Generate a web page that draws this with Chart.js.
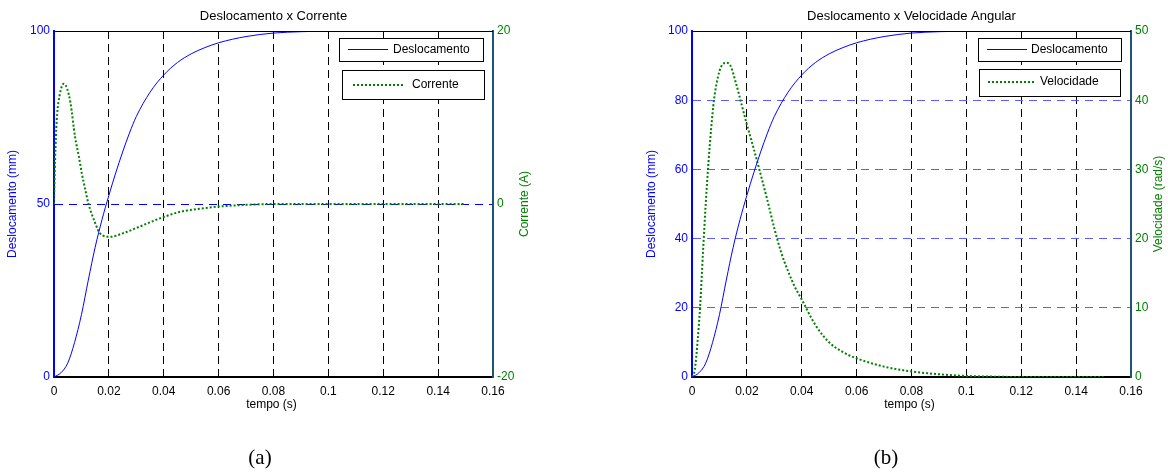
<!DOCTYPE html>
<html>
<head>
<meta charset="utf-8">
<script src="https://cdn.jsdelivr.net/npm/chart.js@4.4.1/dist/chart.umd.min.js"></script>
<style>
  html, body { margin: 0; padding: 0; background: #fff; }
  #wrap { position: relative; width: 1168px; height: 474px; }
  .panel { position: absolute; top: 0; width: 584px; height: 474px; }
</style>
</head>
<body>
<div id="wrap">
  <div class="panel" style="left:0"><canvas id="chartA" width="584" height="474"></canvas></div>
  <div class="panel" style="left:584px"><canvas id="chartB" width="584" height="474"></canvas></div>
</div>
<script>
// values
const tempoDesl = [0, 0.0025, 0.005, 0.0075, 0.01, 0.0125, 0.015, 0.0175, 0.02, 0.0225, 0.025, 0.0275,
  0.03, 0.035, 0.04, 0.045, 0.05, 0.055, 0.06, 0.07, 0.08, 0.09, 0.1];
const deslocamento = [0, 1.2, 4, 10, 18, 28, 37.5, 45.5, 52.5, 59, 65, 70.5,
  75.3, 82.3, 87.3, 90.9, 93.4, 95.2, 96.6, 98.4, 99.4, 99.8, 100];

const tempoCorr = [0, 0.0004, 0.001, 0.0022, 0.0036, 0.0048, 0.006, 0.0077, 0.009, 0.0101, 0.0113, 0.0125,
  0.015, 0.0168, 0.0204, 0.025, 0.0313, 0.04, 0.046, 0.052, 0.06, 0.07, 0.08, 0.1, 0.12, 0.15];
const corrente = [0, 5.1, 9.7, 12.8, 13.9, 13.3, 11.7, 7.7, 5.6, 3.6, 1.8, 0.1,
  -2.2, -3.4, -3.8, -3.4, -2.6, -1.5, -0.9, -0.6, -0.3, -0.1, 0, 0, 0, 0];

const tempoVel = [0, 0.001, 0.002, 0.003, 0.004, 0.005, 0.006, 0.007, 0.008, 0.009, 0.01, 0.011, 0.0125,
  0.014, 0.016, 0.018, 0.02, 0.0225, 0.025, 0.0275, 0.03, 0.0325, 0.035, 0.0375, 0.04, 0.045, 0.05,
  0.055, 0.06, 0.07, 0.08, 0.09, 0.1, 0.11, 0.12, 0.15];
const velocidade = [0, 1, 5, 10.5, 18, 25, 31, 36, 40, 42.5, 44.2, 45.1, 45.4,
  45, 42.5, 39.5, 36.5, 33, 29.3, 25.5, 21.5, 18, 15.3, 13, 11.2, 7.5, 5,
  3.6, 2.7, 1.5, 0.8, 0.4, 0.15, 0.05, 0, 0];

const xTickLabels = ['0', '0.02', '0.04', '0.06', '0.08', '0.1', '0.12', '0.14', '0.16'];
const deslTicksA = ['0', '50', '100'];
const corrTicks = ['-20', '0', '20'];
const deslTicksB = ['0', '20', '40', '60', '80', '100'];
const velTicks = ['0', '10', '20', '30', '40', '50'];

const BLUE = '#0000ff';
const GREEN = '#008000';
const FONT = '"Liberation Sans", Arial, sans-serif';

Chart.defaults.font.family = FONT;
Chart.defaults.font.size = 12;

function pairs(xs, ys) {
  return xs.map((x, i) => ({ x: x, y: ys[i] }));
}

// titles, legend boxes, top border and caption drawn on top of the chart
function decor(o) {
  return {
    id: 'decor',
    afterDraw(chart) {
      const ctx = chart.ctx, a = chart.chartArea;
      const midX = (a.left + a.right) / 2, midY = (a.top + a.bottom) / 2;
      ctx.save();
      ctx.strokeStyle = '#000';
      ctx.lineWidth = 1;
      ctx.beginPath();
      ctx.moveTo(a.left, a.top + 0.5);
      ctx.lineTo(a.right, a.top + 0.5);
      ctx.stroke();

      ctx.textAlign = 'center';
      ctx.textBaseline = 'middle';
      ctx.fillStyle = '#000';
      ctx.font = '13px ' + FONT;
      ctx.fillText(o.title, midX, 16);
      ctx.font = '12px ' + FONT;
      ctx.fillText('tempo (s)', midX - 2, 405);

      ctx.save();
      ctx.translate(o.leftTitleX, midY);
      ctx.rotate(-Math.PI / 2);
      ctx.fillStyle = BLUE;
      ctx.fillText(o.leftTitle, 0, 0);
      ctx.restore();

      ctx.save();
      ctx.translate(o.rightTitleX, midY);
      ctx.rotate(-Math.PI / 2);
      ctx.fillStyle = GREEN;
      ctx.fillText(o.rightTitle, 0, 0);
      ctx.restore();

      // legend boxes
      o.legend.forEach(function (b) {
        ctx.fillStyle = '#fff';
        ctx.fillRect(b.x, b.y, b.w, b.h);
        ctx.strokeStyle = '#000';
        ctx.lineWidth = 1;
        ctx.strokeRect(b.x + 0.5, b.y + 0.5, b.w, b.h);
        ctx.beginPath();
        ctx.strokeStyle = b.color;
        ctx.lineWidth = b.dotted ? 2 : 1;
        ctx.setLineDash(b.dotted ? [2, 2] : []);
        ctx.moveTo(b.lx1, b.ly);
        ctx.lineTo(b.lx2, b.ly);
        ctx.stroke();
        ctx.setLineDash([]);
        ctx.fillStyle = '#000';
        ctx.textAlign = 'left';
        ctx.font = '12px ' + FONT;
        ctx.fillText(b.text, b.tx, b.ly);
      });

      ctx.textAlign = 'center';
      ctx.fillStyle = '#000';
      ctx.font = '21px "Liberation Serif", "Times New Roman", serif';
      ctx.fillText(o.caption, o.captionX, 458);
      ctx.restore();
    }
  };
}

function makeChart(id, c) {
  return new Chart(document.getElementById(id), {
    type: 'line',
    data: {
      datasets: [
        {
          label: 'Deslocamento',
          data: pairs(tempoDesl, deslocamento),
          yAxisID: 'y',
          borderColor: BLUE,
          borderWidth: 1,
          pointRadius: 0,
          cubicInterpolationMode: 'monotone'
        },
        {
          label: c.label2,
          data: pairs(c.t2, c.v2),
          yAxisID: 'y1',
          borderColor: GREEN,
          borderWidth: 2,
          borderDash: [2, 2],
          pointRadius: 0,
          cubicInterpolationMode: 'monotone'
        }
      ]
    },
    options: {
      responsive: false,
      animation: false,
      layout: { padding: { left: 0, right: 0, top: 31, bottom: 0 } },
      plugins: { legend: { display: false }, tooltip: { enabled: false } },
      scales: {
        x: {
          type: 'linear',
          min: 0, max: 0.16,
          ticks: { stepSize: 0.02, color: '#000', padding: 7, maxRotation: 0,
            callback: (v, i) => xTickLabels[i] },
          grid: {
            drawTicks: false,
            lineWidth: 1,
            color: ctx => (ctx.index > 0 && ctx.index < xTickLabels.length - 1) ? '#000' : 'rgba(0,0,0,0)'
          },
          border: { color: '#000', width: 2, dash: [8, 5] },
          afterFit: s => { s.height = 97; }
        },
        y: {
          position: 'left',
          min: 0, max: 100,
          ticks: { stepSize: c.leftStep, color: BLUE, padding: 4,
            callback: (v, i) => c.leftTicks[i] },
          grid: {
            drawTicks: false,
            color: ctx => (ctx.tick && ctx.tick.value > 0 && ctx.tick.value < 100) ? c.hGridColor : 'rgba(0,0,0,0)'
          },
          border: { color: BLUE, width: 2, dash: [8, 6] },
          afterFit: s => { s.width = c.leftWidth; }
        },
        y1: {
          position: 'right',
          min: c.rightMin, max: c.rightMax,
          ticks: { stepSize: c.rightStep, color: GREEN, padding: 4,
            callback: (v, i) => c.rightTicks[i] },
          grid: { display: false, drawOnChartArea: false, drawTicks: false },
          border: { color: '#1f5573', width: 2 },
          afterFit: s => { s.width = c.rightWidth; }
        }
      }
    },
    plugins: [decor(c.decor)]
  });
}

makeChart('chartA', {
  label2: 'Corrente',
  t2: tempoCorr, v2: corrente,
  leftStep: 50, leftTicks: deslTicksA,
  rightMin: -20, rightMax: 20, rightStep: 20, rightTicks: corrTicks,
  hGridColor: BLUE,
  leftWidth: 54, rightWidth: 91,
  decor: {
    title: 'Deslocamento x Corrente',
    leftTitle: 'Deslocamento (mm)', leftTitleX: 13,
    rightTitle: 'Corrente (A)', rightTitleX: 525,
    caption: '(a)', captionX: 260,
    legend: [
      { x: 339, y: 38, w: 144, h: 23, color: BLUE, dotted: false, lx1: 348, lx2: 388, ly: 49.5, tx: 393, text: 'Deslocamento' },
      { x: 342, y: 70, w: 142, h: 29, color: GREEN, dotted: true, lx1: 353, lx2: 403, ly: 85, tx: 412, text: 'Corrente' }
    ]
  }
});

makeChart('chartB', {
  label2: 'Velocidade',
  t2: tempoVel, v2: velocidade,
  leftStep: 20, leftTicks: deslTicksB,
  rightMin: 0, rightMax: 50, rightStep: 10, rightTicks: velTicks,
  hGridColor: '#5c5cff',
  leftWidth: 108, rightWidth: 37,
  decor: {
    title: 'Deslocamento x Velocidade Angular',
    leftTitle: 'Deslocamento (mm)', leftTitleX: 68,
    rightTitle: 'Velocidade (rad/s)', rightTitleX: 575,
    caption: '(b)', captionX: 302,
    legend: [
      { x: 394, y: 38, w: 143, h: 23, color: BLUE, dotted: false, lx1: 403, lx2: 443, ly: 49.5, tx: 447, text: 'Deslocamento' },
      { x: 395, y: 69, w: 141, h: 27, color: GREEN, dotted: true, lx1: 404, lx2: 451, ly: 82, tx: 456, text: 'Velocidade' }
    ]
  }
});
</script>
</body>
</html>
